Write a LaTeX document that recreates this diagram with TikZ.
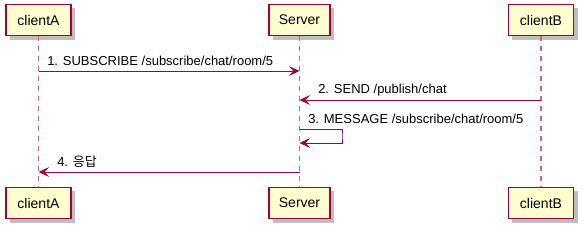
\documentclass[tikz,border=0pt]{standalone}
\usepackage{fontspec}
\setmainfont{Liberation Sans}
\newfontfamily\krfont{Noto Sans CJK KR}
\usetikzlibrary{arrows.meta,shadows}
\definecolor{umlred}{HTML}{A80036}
\definecolor{umlfill}{HTML}{FEFECE}
\begin{document}
\begin{tikzpicture}[
        x=0.75pt, y=-0.75pt,
        partnode/.style={
            rectangle,
            draw=umlred,
            fill=umlfill,
            line width=1.1pt,
            minimum height=23.5pt,
            inner xsep=5pt,
            font=\fontsize{10.5}{12}\selectfont,
            drop shadow={shadow xshift=3pt, shadow yshift=-3pt,
                fill=black, opacity=0.25}
        },
        lifeline/.style={
            draw=umlred!60,
            line width=1pt,
            dash pattern=on 3.75pt off 3.75pt
        },
        msgarrow/.style={
            draw=umlred,
            line width=0.75pt,
            -{Stealth[length=8pt, width=7.5pt, inset=3.5pt]}
        },
        msglabel/.style={
            anchor=west,
            inner sep=0pt,
            font=\fontsize{9.75}{11}\selectfont
        }
    ]
        \useasboundingbox (0,0) rectangle (587,233);

        % participants
        \node[partnode, minimum width=49pt] (cAtop) at (38.5,20) {clientA};
        \node[partnode, minimum width=46pt] (Stop) at (299.5,20) {Server};
        \node[partnode, minimum width=49pt] (cBtop) at (541,20) {clientB};
        \node[partnode, minimum width=49pt] (cAbot) at (38.5,203) {clientA};
        \node[partnode, minimum width=46pt] (Sbot) at (299.5,203) {Server};
        \node[partnode, minimum width=49pt] (cBbot) at (541,203) {clientB};

        % lifelines
        \draw[lifeline] (cAtop.south) -- (cAbot.north);
        \draw[lifeline] (Stop.south) -- (Sbot.north);
        \draw[lifeline] (cBtop.south) -- (cBbot.north);

        % message points
        \coordinate (a1) at (38.5,71);
        \coordinate (s1) at (299.5,71);
        \coordinate (b2) at (541,100);
        \coordinate (s2) at (299.5,100);
        \coordinate (s3) at (299.5,129);
        \coordinate (s3e) at (299.5,143);
        \coordinate (s4) at (299.5,172);
        \coordinate (a4) at (38.5,172);

        % messages
        \draw[msgarrow] (a1) -- (s1);
        \node[msglabel] (m1) at (47,61) {1. SUBSCRIBE /subscribe/chat/room/5};
        \draw[msgarrow] (b2) -- (s2);
        \node[msglabel] (m2) at (318,90) {2. SEND /publish/chat};
        \draw[msgarrow] (s3) -| ++(42.5,7) |- (s3e);
        \node[msglabel] (m3) at (308,119) {3. MESSAGE /subscribe/chat/room/5};
        \draw[msgarrow] (s4) -- (a4);
        \node[msglabel] (m4) at (57,162) {4. {\krfont 응답}};

    \end{tikzpicture}
\end{document}
